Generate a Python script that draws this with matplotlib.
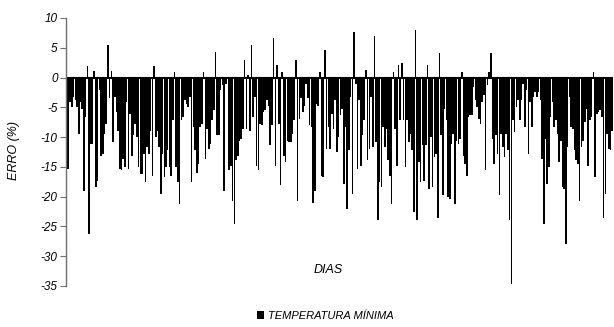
import matplotlib
matplotlib.use("Agg")
import matplotlib.pyplot as plt
import numpy as np

plt.rcParams['font.family'] = ['Liberation Sans', 'DejaVu Sans']

seg1 = [-15.3, -15.3, -4.1, -4.9, -3.3, -3.8, -4.9, -9.4, -4.1, -5.2, -19.0, -6.6, 1.9, -26.3,
        -11.1, -11.1, 1.1, -18.4, -17.3, -2.1, -13.1, -12.8, -9.4, -7.8, 5.4, -3.5, 1.1, -10.8,
        -3.3, -5.8, -8.9, -15.3, -15.6, -13.7, -15.1, -4.1, -15.3, -6.1, -13.1, -9.7, -7.8]
seg2 = [-10.0, -15.1, -16.2, -16.2, -12.8, -17.6, -11.7, -12.8, -8.9, -16.5, 2.0, -10.0, -8.9,
        -11.7, -19.6, -12.8, -16.7, -15.1, -12.2, -15.1, -16.5, -7.2, 1.0, -15.1, -17.6, -21.2,
        -7.2, -6.6, -3.8, -4.4, -4.9, -3.3, -17.6, -8.3]
seg3 = [-12.2, -16.0, -14.5, -8.3, -7.8, 1.0, -13.7, -8.6, -12.0, -11.1, -7.2, -5.5, 4.3, -9.7,
        -9.7, -2.1, -1.3, -19.0, -1.0, -0.3, -15.6, -14.8, -20.7, -24.6, -13.9, -13.1, -10.6,
        -10.3, -8.6, 3.0, -8.6, 0.4, -8.9, 5.4, -6.6, -3.3, -14.8, -15.6, -7.8]
seg4 = [-8.0, -5.8, -5.5, -3.8, -4.7, -11.4, -8.0, 6.6, -14.8, 2.1, -7.8, -18.1, 1.0, -13.1,
        -14.2, -10.6, -10.8, -10.8, -9.4, -7.2, 3.0, -20.7, -6.9, -3.5, -5.8, -4.7, -1.0, -3.5,
        -8.0, -8.3, -21.0, -19.0, -4.4, -4.7, 1.0, -16.5, -16.7, 4.6, -12.0, -8.3]
seg5 = [-12.0, -6.1, -8.6, -3.8, -12.5, -10.0, -6.3, -5.2, -17.9, -8.3, -22.1, -12.2, -3.3,
        -19.6, 7.7, -1.0, -15.3, -3.8, -14.8, -9.7, -7.2, 1.2, -13.9, -12.0, -3.3, -11.7, 7.0,
        -10.8, -24.0, -17.6, -18.4, -8.3, -11.7, -8.6, -13.9, -16.5, -21.2, 1.0, -8.6, -14.8,
        2.1, -7.2]
seg6 = [2.4, -7.2, -15.1, -7.2, -10.8, -9.4, -12.2, -22.6, 8.0, -24.0, -14.2, -17.6, -11.4,
        -17.3, -11.4, 2.1, -18.7, -10.0, -18.4, -13.4, -12.8, -23.5, 4.2, -9.7, -19.8, -5.2,
        -7.2, -20.1, -20.4, -11.1, -9.4, -21.2, -10.6, -11.1, -10.3, 1.0, -13.1, -14.5, -16.5,
        -6.6, -6.3]
seg7 = [-6.3, -1.6, -3.8, -4.9, -6.9, -7.8, -4.1, -3.0, -15.6, -1.3, 1.0, 4.2, -10.3, -14.5,
        -9.7, -12.8, -19.8, -9.4, -11.7, -13.4, -9.4, -12.2, -24.0, -34.7, -7.2, -9.2, -4.9,
        -3.8, -7.2, -3.8, -1.0, -8.3, -2.1, -12.8, -4.1, -8.3, -3.3, -2.4, -3.3, -2.4]
seg8 = [-3.8, -13.7, -24.6, -10.3, -17.9, -15.1, -6.6, -4.1, -8.3, -7.2, -9.4, -14.2, -10.6,
        -18.4, -18.7, -28.0, -11.7, -3.3, -8.3, -8.6, -12.2, -13.9, -14.5, -20.7, -11.7, -10.6,
        -7.5, -5.2, -14.8, -7.2, -6.6, 1.0, -16.7, -6.1, -5.8, -5.5, -6.6, -23.5, -19.6, -9.4,
        -12.0, -12.2, -8.9]

erro = seg1 + seg2 + seg3 + seg4 + seg5 + seg6 + seg7 + seg8
dias = np.arange(1, len(erro) + 1)
yticks = [10, 5, 0, -5, -10, -15, -20, -25, -30, -35]

fig = plt.figure(figsize=(6.14, 3.27), dpi=100)
ax = fig.add_axes([66/614, 1 - 286/327, 547/614, 268/327])

ax.bar(dias, erro, width=0.92, color='black', linewidth=0,
       label='TEMPERATURA MÍNIMA')
ax.axhline(0, color='black', lw=1.5)

ax.set_xlim(0.5, len(erro) + 0.5)
ax.set_ylim(-35, 10)
ax.set_yticks(yticks)
ax.set_yticklabels([str(t) for t in yticks], fontstyle='italic', fontsize=8.5)
ax.set_xticks([])
for s in ['top', 'right', 'bottom']:
    ax.spines[s].set_visible(False)
ax.spines['left'].set_color('#707070')
ax.spines['left'].set_linewidth(1.0)
ax.tick_params(axis='y', length=4, color='#707070', pad=2)

fig.text(14/614, 1 - 150/327, 'ERRO (%)', rotation=90, ha='center', va='center',
         fontstyle='italic', fontsize=9)
fig.text(328/614, 1 - 270/327, 'DIAS', ha='center', va='center',
         fontstyle='italic', fontsize=9)

leg = fig.legend(loc='center', bbox_to_anchor=(325/614, 1 - 316/327), frameon=False,
                 prop={'style': 'italic', 'size': 8}, handlelength=0.7, handleheight=0.7,
                 handletextpad=0.3)

fig.savefig('out.png', dpi=100)
